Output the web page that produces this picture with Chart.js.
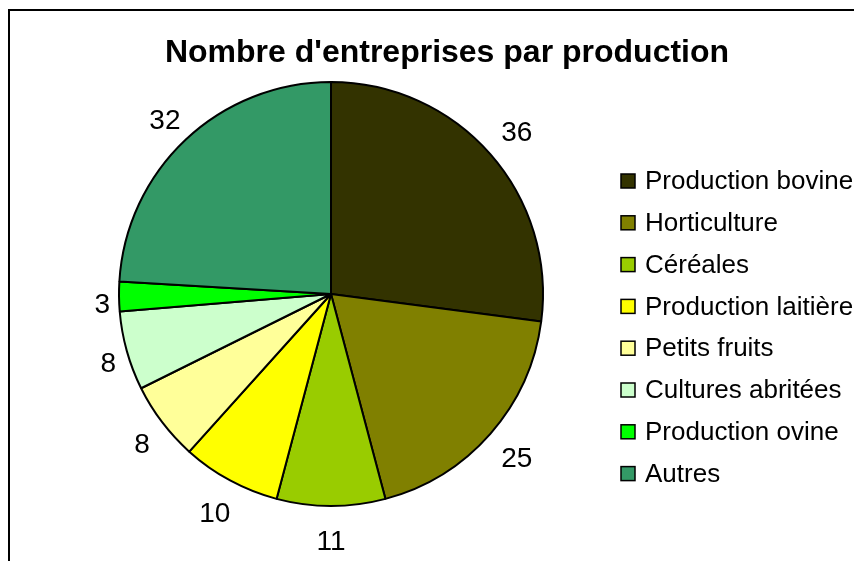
<!DOCTYPE html>
<html>
<head>
<meta charset="utf-8">
<script src="https://cdn.jsdelivr.net/npm/chart.js@4/dist/chart.umd.min.js"></script>
<style>
  html, body { margin: 0; padding: 0; background: #fff; }
  #wrap { width: 854px; height: 561px; position: relative; }
</style>
</head>
<body>
<div id="wrap"><canvas id="pieChart" width="854" height="561"></canvas></div>
<script>
const title_text = "Nombre d'entreprises par production";
const categories = ['Production bovine', 'Horticulture', 'Céréales', 'Production laitière',
    'Petits fruits', 'Cultures abritées', 'Production ovine', 'Autres'];
const values = [36, 25, 11, 10, 8, 8, 3, 32];
const colors = ['#333300', '#808000', '#99CC00', '#FFFF00', '#FFFF99', '#CCFFCC', '#00FF00', '#339966'];

const FONT = '"Liberation Sans", Arial, sans-serif';

// frame, title, value labels and legend drawn by hand
const decor = {
    id: 'decor',
    beforeDraw(chart) {
        const ctx = chart.ctx;
        ctx.save();
        ctx.fillStyle = '#fff';
        ctx.fillRect(0, 0, chart.width, chart.height);
        ctx.strokeStyle = '#000';
        ctx.lineWidth = 2;
        ctx.strokeRect(9, 10, 1000, 1000);
        ctx.restore();
    },
    afterDraw(chart) {
        const ctx = chart.ctx;
        ctx.save();
        ctx.fillStyle = '#000';
        ctx.textBaseline = 'middle';
        ctx.textAlign = 'center';
        ctx.font = 'bold 32px ' + FONT;
        ctx.fillText(title_text, 447, 53);

        // value labels outside the slices (alphabetic baseline, digits centred)
        ctx.font = '28px ' + FONT;
        ctx.textBaseline = 'alphabetic';
        const meta = chart.getDatasetMeta(0);
        meta.data.forEach(function(arc, i) {
            const mid = (arc.startAngle + arc.endAngle) / 2;
            const dx = Math.cos(mid), dy = Math.sin(mid);
            const hw = ctx.measureText(String(values[i])).width / 2;
            const ext = Math.sqrt(Math.pow(dx * hw, 2) + Math.pow(dy * 25, 2));
            const dist = arc.outerRadius + 9 + ext + Math.max(0, dx) * 8;
            const shift = 6.5 * Math.max(0, -dx) * Math.min(1, Math.max(0, dy + 1));
            const cy = arc.y + dy * dist + shift;
            ctx.fillText(String(values[i]), arc.x + dx * dist, cy + 10);
        });

        // legend
        ctx.font = '26px ' + FONT;
        ctx.textAlign = 'left';
        ctx.textBaseline = 'middle';
        categories.forEach(function(cat, i) {
            const y = 181 + i * 41.8;
            ctx.fillStyle = colors[i];
            ctx.fillRect(621, y - 7, 14, 14);
            ctx.strokeStyle = '#000';
            ctx.lineWidth = 1.5;
            ctx.strokeRect(621, y - 7, 14, 14);
            ctx.fillStyle = '#000';
            ctx.fillText(cat, 645, y + 1);
        });
        ctx.restore();
    }
};

new Chart(document.getElementById('pieChart').getContext('2d'), {
    type: 'pie',
    data: {
        labels: categories,
        datasets: [{
            data: values,
            backgroundColor: colors,
            borderColor: '#000',
            borderWidth: 2
        }]
    },
    options: {
        responsive: false,
        animation: false,
        layout: { padding: { left: 118, top: 81, right: 310, bottom: 54 } },
        plugins: {
            legend: { display: false },
            title: { display: false },
            tooltip: { enabled: false }
        }
    },
    plugins: [decor]
});
</script>
</body>
</html>
